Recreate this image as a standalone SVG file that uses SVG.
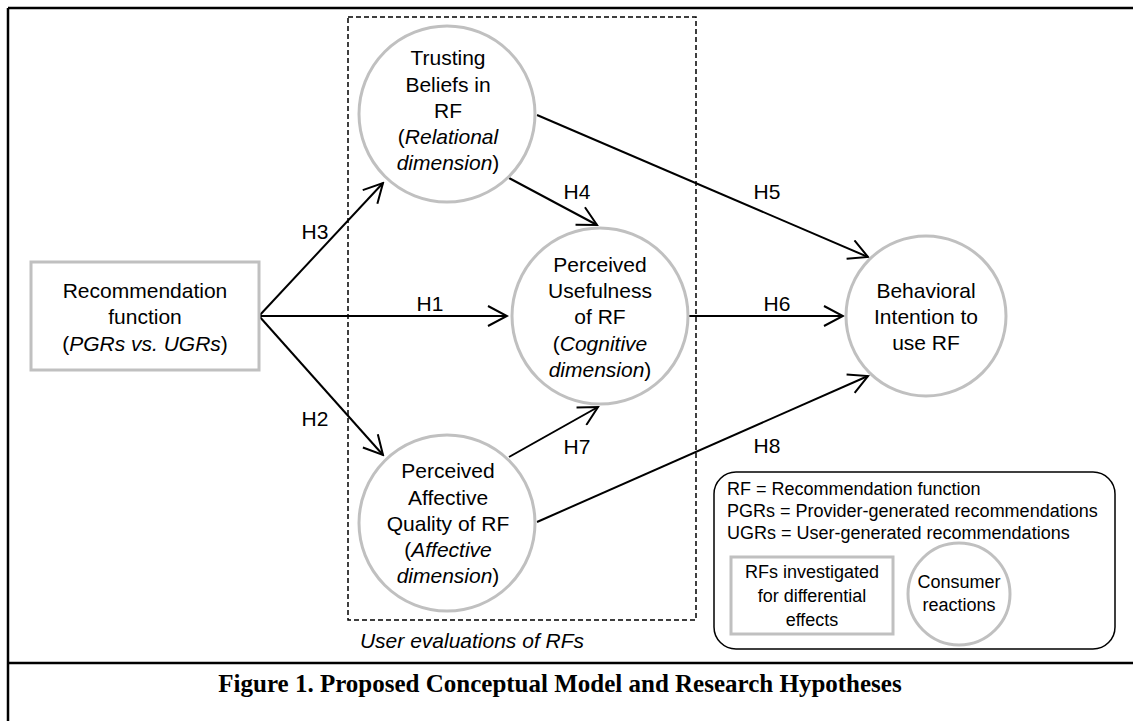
<svg xmlns="http://www.w3.org/2000/svg" width="1133" height="721" viewBox="0 0 1133 721">
<defs>
<style>
.t{font-family:"Liberation Sans",Arial,sans-serif;font-size:21px;fill:#000;text-anchor:middle}
.lg{font-family:"Liberation Sans",Arial,sans-serif;font-size:18px;fill:#000}
.lgc{font-family:"Liberation Sans",Arial,sans-serif;font-size:18px;fill:#000;text-anchor:middle}
.i{font-style:italic}
.node{fill:#fff;stroke:#c0c0c0;stroke-width:3}
.edge{stroke:#000;stroke-width:2;fill:none}
.frame{stroke:#000;stroke-width:2.5;fill:none}
</style>
<marker id="arr" viewBox="0 0 22 22" refX="20" refY="11" markerWidth="22" markerHeight="22" markerUnits="userSpaceOnUse" orient="auto">
<path d="M1,1 L20,11 L1,21" fill="none" stroke="#000" stroke-width="2"/>
</marker>
</defs>
<rect width="1133" height="721" fill="#fff"/>
<g id="frame">
<line class="frame" x1="8" y1="8" x2="1133" y2="8"/>
<line class="frame" x1="8" y1="8" x2="8" y2="721"/>
<line class="frame" x1="8" y1="663" x2="1133" y2="663"/>
<text x="560" y="692" style="font-family:'Liberation Serif','Times New Roman',serif;font-size:25px;font-weight:bold;text-anchor:middle">Figure 1. Proposed Conceptual Model and Research Hypotheses</text>
</g>
<g id="user-evaluations">
<rect x="348" y="17" width="348" height="603" fill="none" stroke="#000" stroke-width="1.5" stroke-dasharray="5,3"/>
<text x="472" y="648" class="t i">User evaluations of RFs</text>
</g>
<g id="connectors">
<line class="edge" x1="259" y1="316" x2="383" y2="183" marker-end="url(#arr)"/>
<line class="edge" x1="259" y1="316" x2="507" y2="316" marker-end="url(#arr)"/>
<line class="edge" x1="259" y1="316" x2="383" y2="455" marker-end="url(#arr)"/>
<line class="edge" x1="509" y1="178" x2="597" y2="225" marker-end="url(#arr)"/>
<line class="edge" x1="537" y1="115" x2="868" y2="257" marker-end="url(#arr)"/>
<line class="edge" x1="688" y1="316" x2="843" y2="316" marker-end="url(#arr)"/>
<line class="edge" x1="509" y1="457" x2="598" y2="407" marker-end="url(#arr)"/>
<line class="edge" x1="537" y1="522" x2="868" y2="376" marker-end="url(#arr)"/>
<text class="t" x="315" y="239">H3</text>
<text class="t" x="430" y="311">H1</text>
<text class="t" x="315" y="426">H2</text>
<text class="t" x="577" y="199">H4</text>
<text class="t" x="767" y="199">H5</text>
<text class="t" x="777" y="311">H6</text>
<text class="t" x="577" y="454">H7</text>
<text class="t" x="767" y="453">H8</text>
</g>
<g id="recommendation-function">
<rect class="node" x="31" y="262" width="228" height="108"/>
<text class="t" x="145" y="298">Recommendation</text>
<text class="t" x="145" y="324">function</text>
<text class="t" x="145" y="351">(<tspan class="i">PGRs vs. UGRs</tspan>)</text>
</g>
<g id="trusting-beliefs">
<circle class="node" cx="447" cy="114" r="88"/>
<text class="t" x="448" y="65">Trusting</text>
<text class="t" x="448" y="92">Beliefs in</text>
<text class="t" x="448" y="118">RF</text>
<text class="t" x="448" y="144">(<tspan class="i">Relational</tspan></text>
<text class="t" x="448" y="170"><tspan class="i">dimension</tspan>)</text>
</g>
<g id="perceived-usefulness">
<circle class="node" cx="600" cy="316" r="88"/>
<text class="t" x="600" y="272">Perceived</text>
<text class="t" x="600" y="298">Usefulness</text>
<text class="t" x="600" y="324">of RF</text>
<text class="t" x="600" y="351">(<tspan class="i">Cognitive</tspan></text>
<text class="t" x="600" y="377"><tspan class="i">dimension</tspan>)</text>
</g>
<g id="perceived-affective-quality">
<circle class="node" cx="447" cy="523" r="88"/>
<text class="t" x="448" y="478">Perceived</text>
<text class="t" x="448" y="505">Affective</text>
<text class="t" x="448" y="531">Quality of RF</text>
<text class="t" x="448" y="557">(<tspan class="i">Affective</tspan></text>
<text class="t" x="448" y="583"><tspan class="i">dimension</tspan>)</text>
</g>
<g id="behavioral-intention">
<circle class="node" cx="926" cy="316" r="80"/>
<text class="t" x="926" y="298">Behavioral</text>
<text class="t" x="926" y="324">Intention to</text>
<text class="t" x="926" y="350">use RF</text>
</g>
<g id="legend">
<rect x="714" y="472" width="401" height="177" rx="22" ry="22" fill="#fff" stroke="#000" stroke-width="1.5"/>
<text class="lg" x="727" y="495">RF = Recommendation function</text>
<text class="lg" x="727" y="517">PGRs = Provider-generated recommendations</text>
<text class="lg" x="727" y="539">UGRs = User-generated recommendations</text>
<rect class="node" x="731" y="557" width="162" height="77"/>
<text class="lgc" x="812" y="578">RFs investigated</text>
<text class="lgc" x="812" y="602">for differential</text>
<text class="lgc" x="812" y="626">effects</text>
<circle class="node" cx="959" cy="594" r="51"/>
<text class="lgc" x="959" y="588">Consumer</text>
<text class="lgc" x="959" y="611">reactions</text>
</g>
</svg>
